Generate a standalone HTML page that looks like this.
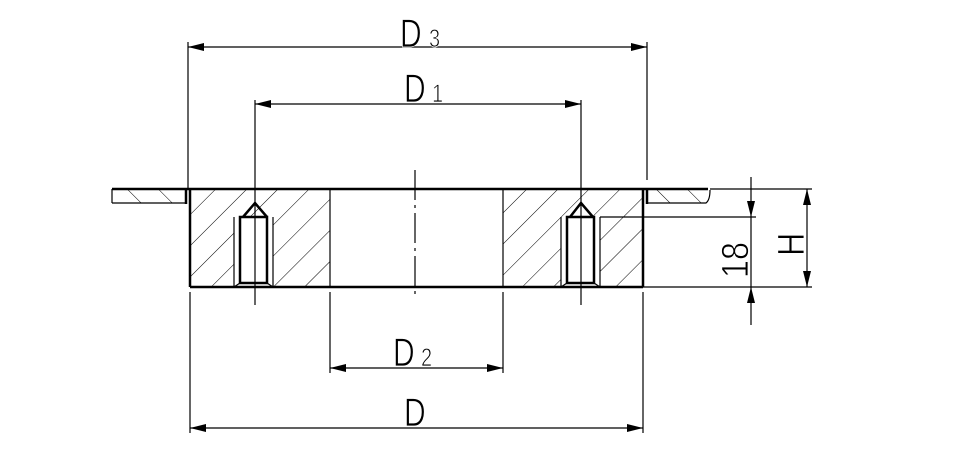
<!DOCTYPE html>
<html><head><style>body{margin:0;background:#fff}svg{display:block}</style></head><body>
<svg width="956" height="473" viewBox="0 0 956 473" xmlns="http://www.w3.org/2000/svg">
<defs>
<pattern id="h" patternUnits="userSpaceOnUse" width="22" height="22" patternTransform="rotate(45)">
<line x1="0" y1="0" x2="0" y2="22" stroke="#000" stroke-width="1"/></pattern>
<pattern id="h2" patternUnits="userSpaceOnUse" width="22" height="22" patternTransform="rotate(-45)">
<line x1="0" y1="0" x2="0" y2="22" stroke="#000" stroke-width="1"/></pattern>
<marker id="a" markerWidth="16" markerHeight="8" refX="16" refY="4" orient="auto" markerUnits="userSpaceOnUse"><path d="M0,0 L16,4 L0,8z" fill="#000"/></marker>
<marker id="b" markerWidth="16" markerHeight="8" refX="0" refY="4" orient="auto" markerUnits="userSpaceOnUse"><path d="M16,0 L0,4 L16,8z" fill="#000"/></marker>
</defs>
<g fill="none" stroke="#000">
<rect x="190" y="189" width="140" height="98" fill="url(#h)" stroke="none"/>
<rect x="503" y="189" width="140" height="98" fill="url(#h)" stroke="none"/>
<rect x="112" y="189" width="76" height="14" fill="url(#h2)" stroke="none"/>
<rect x="648" y="189" width="60" height="14" fill="url(#h2)" stroke="none"/>
<rect x="234" y="217" width="39" height="70" fill="#fff" stroke="none"/>
<rect x="561" y="217" width="39" height="70" fill="#fff" stroke="none"/>
<g stroke-width="2.5">
<line x1="112" y1="189" x2="708" y2="189"/>
<line x1="190" y1="287" x2="643" y2="287"/>
<line x1="190" y1="189" x2="190" y2="287"/>
<line x1="643" y1="189" x2="643" y2="287"/>
<line x1="186" y1="189" x2="186" y2="204"/>
<line x1="647" y1="189" x2="647" y2="204"/>
<rect x="240" y="217" width="27" height="66"/>
<rect x="567" y="217" width="27" height="66"/>
<path d="M243,217 L255,203 L267,217"/><path d="M570,217 L581,203 L593,217"/>
</g>
<g stroke-width="1.2">
<path d="M112,203 L186,203 M112,189 L112,203"/>
<path d="M647,203 L706,203 Q710,200 710,190"/>
<line x1="330" y1="189" x2="330" y2="287"/><line x1="503" y1="189" x2="503" y2="287"/>
<path d="M234,217 L234,287 M273,217 L273,287 M234,287 L240,283 M273,287 L267,283"/>
<path d="M561,217 L561,287 M600,217 L600,287 M561,287 L567,283 M600,287 L594,283"/>
<line x1="415" y1="170" x2="415" y2="297" stroke-dasharray="30,5,3,5"/>
<line x1="255" y1="100" x2="255" y2="305"/><line x1="581" y1="100" x2="581" y2="305"/>
<line x1="188" y1="42" x2="188" y2="189"/><line x1="647" y1="42" x2="647" y2="180"/>
<line x1="190" y1="292" x2="190" y2="433"/><line x1="643" y1="292" x2="643" y2="433"/>
<line x1="330" y1="292" x2="330" y2="373"/><line x1="503" y1="292" x2="503" y2="373"/>
<line x1="600" y1="217" x2="756" y2="217"/>
<line x1="710" y1="189" x2="812" y2="189"/><line x1="643" y1="287" x2="812" y2="287"/>
<line x1="188" y1="47" x2="647" y2="47" marker-start="url(#b)" marker-end="url(#a)"/>
<line x1="255" y1="104" x2="581" y2="104" marker-start="url(#b)" marker-end="url(#a)"/>
<line x1="330" y1="368" x2="503" y2="368" marker-start="url(#b)" marker-end="url(#a)"/>
<line x1="190" y1="428" x2="643" y2="428" marker-start="url(#b)" marker-end="url(#a)"/>
<line x1="807" y1="189" x2="807" y2="287" marker-start="url(#b)" marker-end="url(#a)"/>
<line x1="751" y1="177" x2="751" y2="217" marker-end="url(#a)"/>
<line x1="751" y1="325" x2="751" y2="287" marker-end="url(#a)"/>
<line x1="751" y1="217" x2="751" y2="287"/>
</g>
</g>
<g font-family="Liberation Sans, sans-serif" fill="#000" stroke="#fff" stroke-width="0.8">
<text transform="translate(400,47) scale(0.75,1)" font-size="40">D</text><text transform="translate(429,47) scale(0.8,1)" font-size="25">3</text>
<text transform="translate(404,102) scale(0.75,1)" font-size="40">D</text><text transform="translate(432,102) scale(0.8,1)" font-size="25">1</text>
<text transform="translate(393,366) scale(0.75,1)" font-size="40">D</text><text transform="translate(421,366) scale(0.8,1)" font-size="25">2</text>
<text transform="translate(404,426) scale(0.75,1)" font-size="40">D</text>
<text transform="translate(748,278) rotate(-90) scale(0.85,1)" font-size="38">18</text>
<text transform="translate(804,256) rotate(-90) scale(0.85,1)" font-size="38">H</text>
</g>
</svg>
</body></html>
